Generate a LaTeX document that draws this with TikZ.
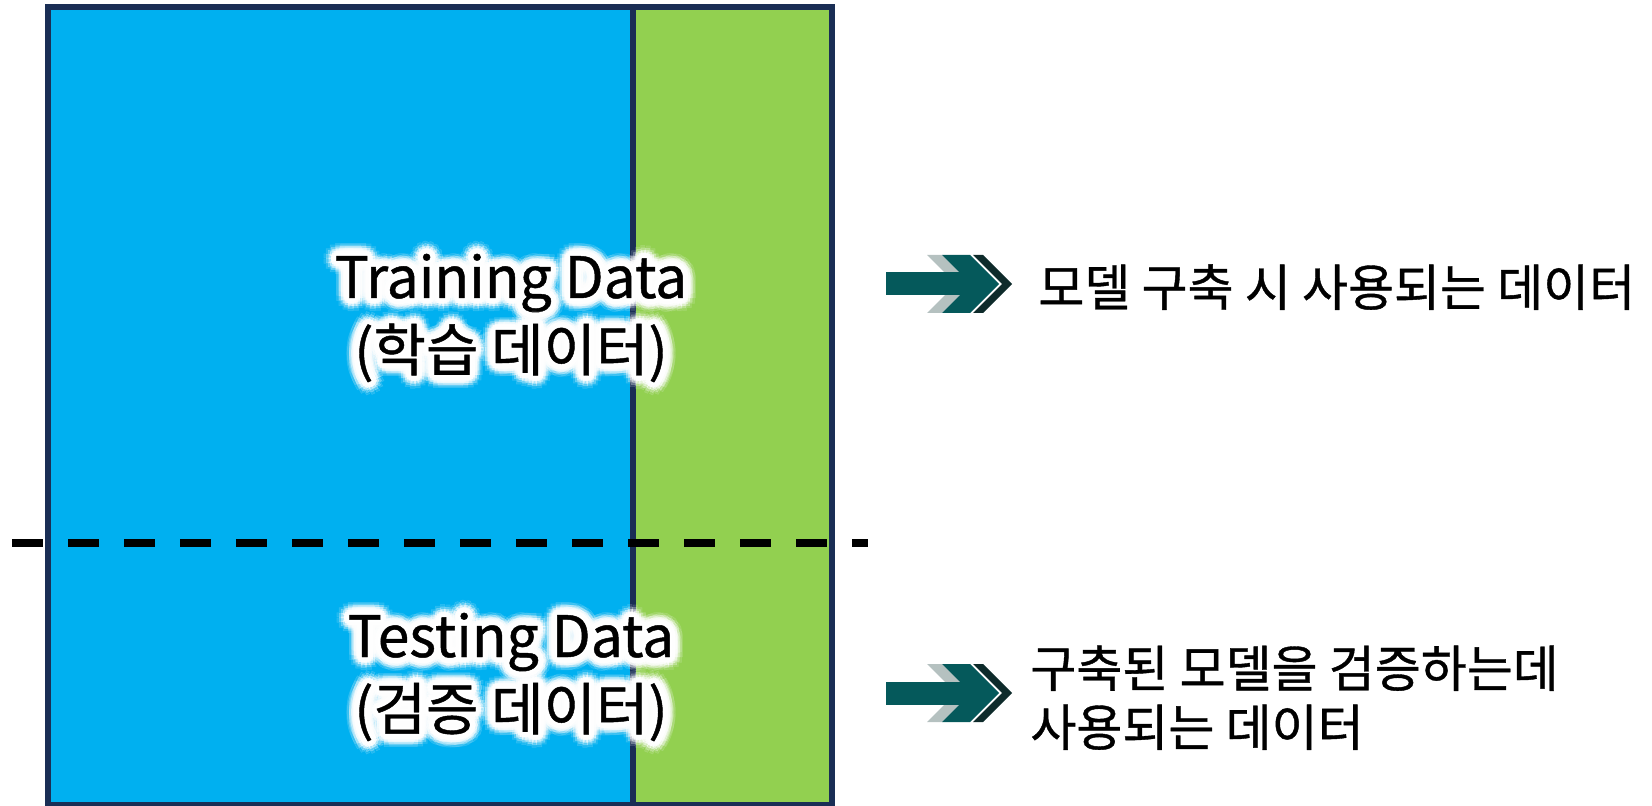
\documentclass[tikz,border=0pt]{standalone}
\usepackage{fontspec}
\setmainfont{Noto Sans CJK KR}[FakeBold=0.8]
\definecolor{dsblue}{HTML}{00B0F0}
\definecolor{dsgreen}{HTML}{92D050}
\definecolor{dsnavy}{HTML}{1A2E55}
\definecolor{arteal}{HTML}{05595B}
\definecolor{argrey}{HTML}{B5C1C0}
\definecolor{ardark}{HTML}{0E2B2B}
\tikzset{
  box/.style={draw=dsnavy, line width=3pt},
  boxtext/.style={inner sep=0pt, font=\fontsize{28.5pt}{34pt}\selectfont, text=black},
  sidetext/.style={inner sep=0pt, font=\fontsize{25pt}{30pt}\selectfont, text=black, anchor=base west},
  splitline/.style={line width=4pt, dash pattern=on 15.5pt off 12.5pt},
}
\newcommand\glowtext[3]{%
  \foreach \r/\o in {13/0.12,10.5/0.25,8/0.45,5.5/0.8,3/1}{%
    \foreach \a in {0,24,...,336}{%
      \node[boxtext, text=white, opacity=\o, anchor=base] at ([shift={(\a:\r)}]#2) {#3};
    }%
  }%
  \node[boxtext, anchor=base] (#1) at (#2) {#3};
}
\newcommand\chevarrow[2]{%
  % #1 name, #2 mid y
  \coordinate (#1) at (886,#2);
  \fill[argrey] ([shift={(41,-29)}]#1) -- ++(15,0) -- ++(29,29) -- ++(-29,29) -- ++(-15,0) -- ++(29,-29) -- cycle;
  \fill[arteal] ([shift={(0,-11.5)}]#1) rectangle ([shift={(95,11.5)}]#1);
  \fill[arteal] ([shift={(56,-29)}]#1) -- ++(28,0) -- ++(29,29) -- ++(-29,29) -- ++(-28,0) -- ++(29,-29) -- cycle;
  \fill[ardark] ([shift={(87,-29)}]#1) -- ++(10,0) -- ++(29,29) -- ++(-29,29) -- ++(-10,0) -- ++(29,-29) -- cycle;
}
\begin{document}
\begin{tikzpicture}[x=0.5pt, y=-0.5pt]
\useasboundingbox (0,0) rectangle (1652,806);
% data boxes
\filldraw[box, fill=dsblue] (48,7) rectangle (633,805);
\filldraw[box, fill=dsgreen] (633,7) rectangle (831.5,805);
\coordinate (splitL) at (12,543);
\coordinate (splitR) at (868,543);
\draw[splitline] (splitL) -- (splitR);
% labels inside
\coordinate (t1) at (511,298);
\coordinate (t2) at (511,371);
\coordinate (s1) at (511,657);
\coordinate (s2) at (511,730);
\glowtext{train1}{t1}{Training Data}
\glowtext{train2}{t2}{(학습 데이터)}
\glowtext{test1}{s1}{Testing Data}
\glowtext{test2}{s2}{(검증 데이터)}
% arrows
\chevarrow{arr1}{284}
\chevarrow{arr2}{693}
% side texts
\node[sidetext] (side1) at (1038,306) {모델 구축 시 사용되는 데이터};
\node[sidetext] (side2a) at (1030,687) {구축된 모델을 검증하는데};
\node[sidetext] (side2b) at (1030,746) {사용되는 데이터};
\end{tikzpicture}
\end{document}
